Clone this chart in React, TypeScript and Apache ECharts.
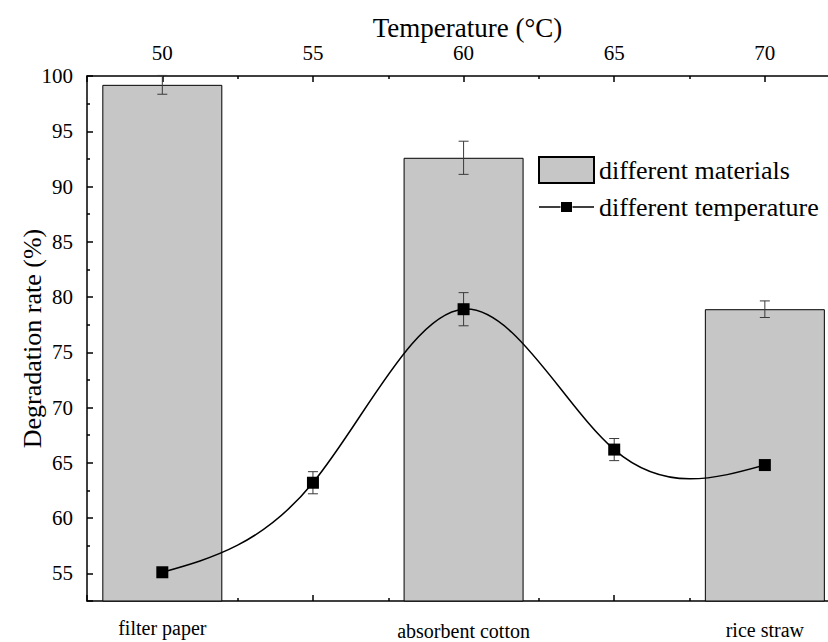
import React, { useEffect, useRef } from 'react';
import * as echarts from 'echarts';

const materials = ['filter paper', 'absorbent cotton', 'rice straw'];
const materialRates = [99.2, 92.6, 78.9];
const materialErr = [0.85, 1.5, 0.75];

const temperatures = [50, 55, 60, 65, 70];
const tempRates = [55.1, 63.2, 78.9, 66.2, 64.8];
const tempErr = [0.3, 1.0, 1.5, 1.0, 0.3];

const FONT = "'Liberation Serif', 'Times New Roman', serif";

// slopes of a natural cubic spline through the data points (used only to draw the connecting curve)
function naturalSplineSlopes(xs: number[], ys: number[]): number[] {
  const n = xs.length;
  const h = xs.slice(1).map((x, i) => x - xs[i]);
  const a = new Array(n).fill(0);
  const b = new Array(n).fill(0);
  const c = new Array(n).fill(0);
  const d = new Array(n).fill(0);
  b[0] = 1;
  b[n - 1] = 1;
  for (let i = 1; i < n - 1; i++) {
    a[i] = h[i - 1];
    b[i] = 2 * (h[i - 1] + h[i]);
    c[i] = h[i];
    d[i] = 6 * ((ys[i + 1] - ys[i]) / h[i] - (ys[i] - ys[i - 1]) / h[i - 1]);
  }
  const cp = new Array(n).fill(0);
  const dp = new Array(n).fill(0);
  cp[0] = c[0] / b[0];
  dp[0] = d[0] / b[0];
  for (let i = 1; i < n; i++) {
    const m = b[i] - a[i] * cp[i - 1];
    cp[i] = c[i] / m;
    dp[i] = (d[i] - a[i] * dp[i - 1]) / m;
  }
  const M = new Array(n).fill(0);
  M[n - 1] = dp[n - 1];
  for (let i = n - 2; i >= 0; i--) M[i] = dp[i] - cp[i] * M[i + 1];
  const s = new Array(n).fill(0);
  for (let i = 0; i < n - 1; i++) s[i] = (ys[i + 1] - ys[i]) / h[i] - (h[i] * (2 * M[i] + M[i + 1])) / 6;
  s[n - 1] = (ys[n - 1] - ys[n - 2]) / h[n - 2] + (h[n - 2] * (M[n - 2] + 2 * M[n - 1])) / 6;
  return s;
}

const curveSlopes = naturalSplineSlopes(temperatures, tempRates);

function errorRender(params: any, api: any) {
  const x = api.value(0);
  const lo = api.value(1);
  const hi = api.value(2);
  const p1 = api.coord([x, hi]);
  const p2 = api.coord([x, lo]);
  const w = 5;
  const st = { stroke: '#3a3a3a', lineWidth: 1 };
  return {
    type: 'group',
    children: [
      { type: 'line', shape: { x1: p1[0], y1: p1[1], x2: p2[0], y2: p2[1] }, style: st },
      { type: 'line', shape: { x1: p1[0] - w, y1: p1[1], x2: p1[0] + w, y2: p1[1] }, style: st },
      { type: 'line', shape: { x1: p2[0] - w, y1: p2[1], x2: p2[0] + w, y2: p2[1] }, style: st },
    ],
  };
}

function curveRender(params: any, api: any) {
  const i = params.dataIndex;
  if (i >= temperatures.length - 1) return null;
  const x0 = api.value(0);
  const y0 = api.value(1);
  const x1 = temperatures[i + 1];
  const y1 = tempRates[i + 1];
  const h = x1 - x0;
  const p0 = api.coord([x0, y0]);
  const c1 = api.coord([x0 + h / 3, y0 + (curveSlopes[i] * h) / 3]);
  const c2 = api.coord([x1 - h / 3, y1 - (curveSlopes[i + 1] * h) / 3]);
  const p3 = api.coord([x1, y1]);
  return {
    type: 'bezierCurve',
    shape: { x1: p0[0], y1: p0[1], cpx1: c1[0], cpy1: c1[1], cpx2: c2[0], cpy2: c2[1], x2: p3[0], y2: p3[1] },
    style: { stroke: '#000', lineWidth: 1.5, fill: null },
  };
}

export default function App() {
  const ref = useRef<HTMLDivElement>(null);
  useEffect(() => {
    document.body.style.margin = '0';
    const chart = echarts.init(ref.current!, null, { renderer: 'svg' });
    const axisLine = { show: true, lineStyle: { color: '#000', width: 1.5 } };
    const axisTick = { show: true, inside: true, length: 6, lineStyle: { color: '#000', width: 1.5 } };
    const minorTick = { show: true, splitNumber: 2, length: 3, lineStyle: { color: '#000', width: 1.5 } };
    const labelBase = { fontFamily: FONT, fontSize: 21, color: '#000' };
    const richBase = { fontFamily: FONT, fontSize: 20, lineHeight: 20, color: '#000' };
    const option: any = {
      animation: false,
      backgroundColor: '#fff',
      grid: { left: 87, right: -20, top: 76, bottom: 41, containLabel: false, outerBoundsMode: 'none' },
      legend: {
        orient: 'vertical',
        left: 533,
        top: 151,
        itemWidth: 55,
        itemHeight: 26,
        itemGap: 10,
        textStyle: { fontFamily: FONT, fontSize: 26, color: '#000' },
        data: [
          { name: 'different materials', icon: 'rect' },
          { name: 'different temperature', icon: 'path://M0,4.3H21.5V5.7H0Z M22,0H33V10H22Z M33.5,4.3H55V5.7H33.5Z' },
        ],
      },
      xAxis: [
        {
          type: 'value',
          position: 'top',
          min: 47.5,
          max: 72.76,
          splitNumber: 5,
          name: 'Temperature (°C)',
          nameLocation: 'middle',
          nameGap: 35,
          nameMoveOverlap: false,
          nameTextStyle: { fontFamily: FONT, fontSize: 27, lineHeight: 27, color: '#000' },
          axisLine,
          axisTick,
          minorTick,
          splitLine: { show: false },
          axisLabel: {
            ...labelBase,
            lineHeight: 21,
            margin: 13,
            showMinLabel: false,
            showMaxLabel: false,
            formatter: (v: number) => (Math.abs(v % 5) < 1e-6 ? String(v) : ''),
          },
        },
        {
          type: 'value',
          position: 'bottom',
          min: 0.75,
          max: 3.276,
          splitNumber: 5,
          axisLine,
          axisTick,
          minorTick,
          splitLine: { show: false },
          axisLabel: {
            ...labelBase,
            margin: 17,
            showMinLabel: false,
            showMaxLabel: false,
            formatter: (v: number) => {
              const r = Math.round(v);
              if (Math.abs(v - r) > 1e-6 || r < 1 || r > materials.length) return '';
              return `{m${r - 1}|${materials[r - 1]}}`;
            },
            rich: {
              m0: { ...richBase, padding: [0, 0, 0, 0] },
              m1: { ...richBase, padding: [5, 0, 0, 0] },
              m2: { ...richBase, padding: [4, 0, 0, 0] },
            },
          },
        },
      ],
      yAxis: {
        type: 'value',
        min: 52.5,
        max: 100,
        splitNumber: 10,
        name: 'Degradation rate (%)',
        nameLocation: 'middle',
        nameGap: 42,
        nameMoveOverlap: false,
        nameRotate: 90,
        nameTextStyle: { fontFamily: FONT, fontSize: 26, color: '#000' },
        axisLine,
        axisTick,
        minorTick,
        splitLine: { show: false },
        axisLabel: {
          ...labelBase,
          margin: 14,
          showMinLabel: false,
          formatter: (v: number) => (Math.abs(v % 5) < 1e-6 ? String(v) : ''),
        },
      },
      series: [
        {
          name: 'different materials',
          type: 'bar',
          xAxisIndex: 1,
          barWidth: 120,
          z: 1,
          itemStyle: { color: '#c6c6c6', borderColor: '#000', borderWidth: 1 },
          data: materials.map((_, i) => [i + 1, materialRates[i]]),
        },
        {
          name: 'materialsErr',
          type: 'custom',
          xAxisIndex: 1,
          z: 3,
          renderItem: errorRender,
          encode: { x: 0, y: [1, 2] },
          data: materials.map((_, i) => [i + 1, materialRates[i] - materialErr[i], materialRates[i] + materialErr[i]]),
        },
        {
          name: 'tempCurve',
          type: 'custom',
          xAxisIndex: 0,
          z: 2,
          renderItem: curveRender,
          encode: { x: 0, y: 1 },
          data: temperatures.map((t, i) => [t, tempRates[i]]),
        },
        {
          name: 'tempErr',
          type: 'custom',
          xAxisIndex: 0,
          z: 3,
          renderItem: errorRender,
          encode: { x: 0, y: [1, 2] },
          data: temperatures.map((t, i) => [t, tempRates[i] - tempErr[i], tempRates[i] + tempErr[i]]),
        },
        {
          name: 'different temperature',
          type: 'scatter',
          xAxisIndex: 0,
          z: 5,
          symbol: 'rect',
          symbolSize: 12,
          itemStyle: { color: '#000', opacity: 1 },
          data: temperatures.map((t, i) => [t, tempRates[i]]),
        },
      ],
    };
    chart.setOption(option);
    return () => chart.dispose();
  }, []);
  return <div ref={ref} style={{ width: 828, height: 642 }} />;
}
